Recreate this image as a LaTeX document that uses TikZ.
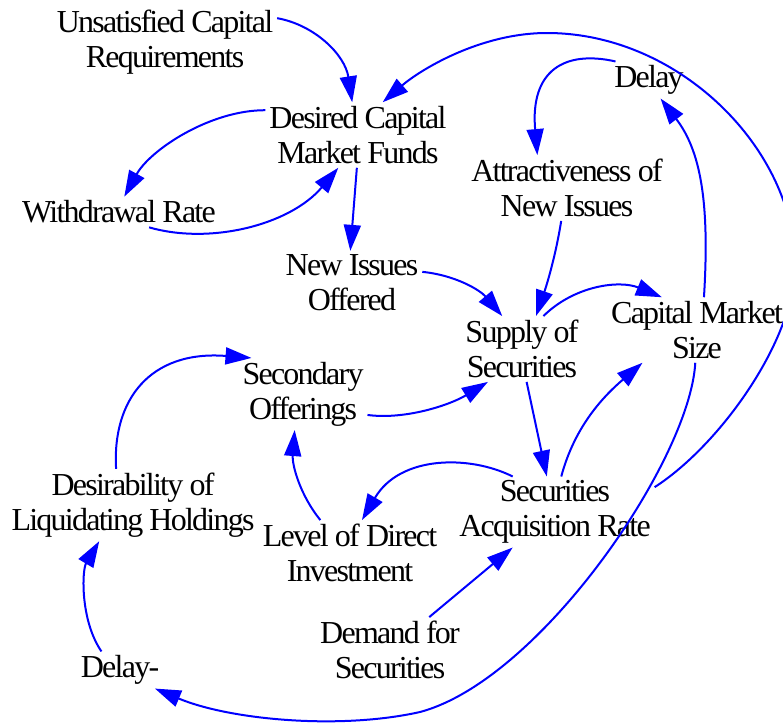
\documentclass[tikz,border=0pt]{standalone}
\usepackage{fontspec}
\setmainfont{Liberation Serif}[LetterSpace=-5.5]
\usetikzlibrary{arrows.meta}

\begin{document}
\begin{tikzpicture}[x=0.5pt,y=-0.5pt,
    var/.style={align=center,inner sep=1pt,outer sep=1pt,font=\fontsize{16}{17.5}\selectfont},
    link/.style={draw=blue,line width=1pt,-{Triangle[length=13pt,width=8.5pt]}}]
    \useasboundingbox (0,0) rectangle (783,723);

    % variables
    \node[var] (ucr) at (165,42) {Unsatisfied Capital\\Requirements};
    \node[var] (dcmf) at (358,135) {Desired Capital\\Market Funds};
    \node[var] (wr) at (119,212) {Withdrawal Rate};
    \node[var] (delay) at (649,80) {Delay};
    \node[var] (aoni) at (567,188) {Attractiveness of\\New Issues};
    \node[var] (nio) at (352,283) {New Issues\\Offered};
    \node[var] (sup) at (522,349) {Supply of\\Securities};
    \node[var] (cms) at (697,330) {Capital Market\\Size};
    \node[var] (so) at (303,394) {Secondary\\Offerings};
    \node[var] (dlh) at (133,505) {Desirability of\\Liquidating Holdings};
    \node[var] (ldi) at (350,553) {Level of Direct\\Investment};
    \node[var] (sar) at (555,512) {Securities\\Acquisition Rate};
    \node[var] (dfs) at (390,650) {Demand for\\Securities};
    \node[var] (delayb) at (120,670) {Delay-};

    % links
    \draw[link] (ucr.12) .. controls (315,25) and (345,55) .. (dcmf.100);
    \draw[link] (dcmf.165) .. controls (210,110) and (150,150) .. (wr.71);
    \draw[link] (wr.-27) .. controls (210,245) and (290,225) .. (dcmf.239);
    \draw[link] (dcmf.268) -- (nio.93);
    \draw[link] (delay.151) .. controls (565,50) and (530,70) .. (aoni.132);
    \draw[link] (sar.14) .. controls (720,445) and (795,340) .. (795,265)
        .. controls (795,150) and (680,33) .. (547,33)
        .. controls (480,33) and (420,70) .. (dcmf.53);
    \draw[link] (cms.78) .. controls (710,200) and (700,150) .. (delay.302);
    \draw[link] (aoni.260) .. controls (555,260) and (545,290) .. (sup.67);
    \draw[link] (nio.9) .. controls (455,275) and (480,290) .. (sup.121);
    \draw[link] (sup.57) .. controls (575,285) and (620,280) .. (cms.137);
    \draw[link] (sup.278) -- (sar.103);
    \draw[link] (sar.80) .. controls (575,425) and (605,395) .. (cms.211);
    \draw[link] (so.342) .. controls (405,420) and (450,405) .. (sup.224);
    \draw[link] (sar.140) .. controls (470,455) and (400,455) .. (ldi.70);
    \draw[link] (ldi.132) .. controls (300,495) and (292,465) .. (so.257);
    \draw[link] (dlh.115) .. controls (112,400) and (150,350) .. (so.145);
    \draw[link] (delayb.135) .. controls (80,620) and (82,570) .. (dlh.227);
    \draw[link] (cms.267) .. controls (690,460) and (540,680) .. (420,712)
        .. controls (340,730) and (230,720) .. (delayb.-28);
    \draw[link] (dfs.40) -- (sar.220);
\end{tikzpicture}
\end{document}
